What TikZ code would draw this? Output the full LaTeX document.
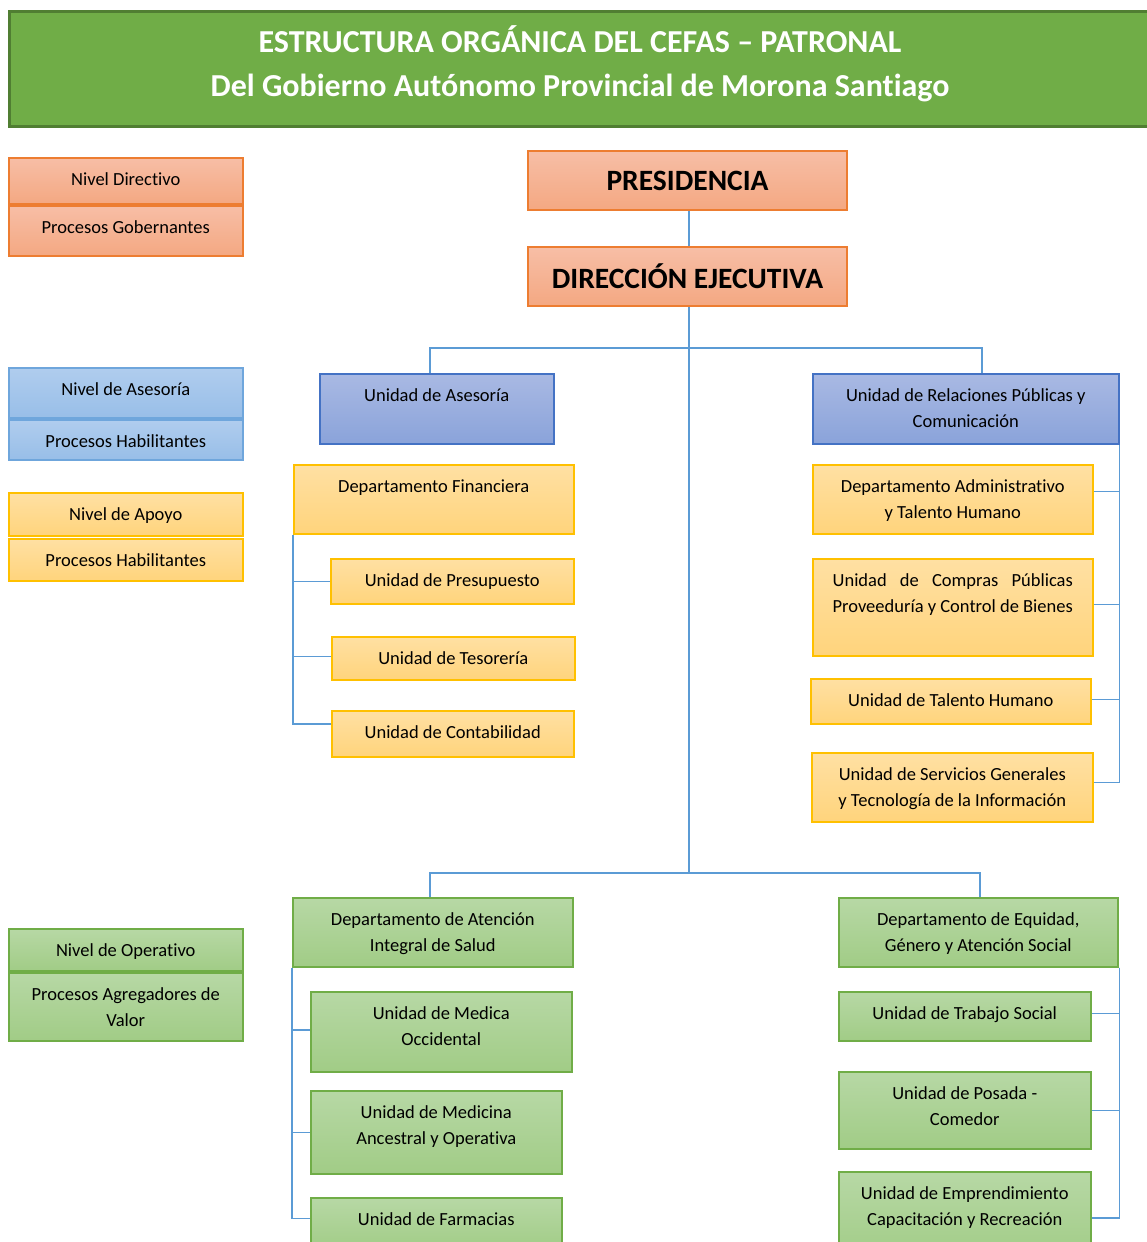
\documentclass[tikz,border=0pt]{standalone}
\usepackage{fontspec}
\setmainfont{Carlito}[Ligatures=NoCommon]
\usetikzlibrary{positioning}
\definecolor{lnblue}{HTML}{5B9BD5}
\definecolor{tiVerde}{HTML}{70AD47}
\definecolor{tiBorde}{HTML}{507E32}
\definecolor{orTop}{HTML}{F7BEA6}
\definecolor{orBot}{HTML}{F4A882}
\definecolor{orBorde}{HTML}{ED7D31}
\definecolor{amTop}{HTML}{FFE0A3}
\definecolor{amBot}{HTML}{FFD47C}
\definecolor{amBorde}{HTML}{FFC000}
\definecolor{veTop}{HTML}{B7D8A5}
\definecolor{veBot}{HTML}{A1CC86}
\definecolor{veBorde}{HTML}{70AD47}
\definecolor{azTop}{HTML}{B0CDEE}
\definecolor{azBot}{HTML}{98BEE8}
\definecolor{azBorde}{HTML}{6FA6DC}
\definecolor{osTop}{HTML}{A9B9E3}
\definecolor{osBot}{HTML}{8AA3DA}
\definecolor{osBorde}{HTML}{4472C4}
\tikzset{
    conn/.style={draw=lnblue, line width=1.5pt},
    orgnode/.style={inner sep=0pt, line width=1.5pt, text=black,
        font=\fontsize{18.5}{26.5}\selectfont},
    naranja/.style={orgnode, draw=orBorde, top color=orTop, bottom color=orBot},
    amarillo/.style={orgnode, draw=amBorde, top color=amTop, bottom color=amBot},
    verde/.style={orgnode, draw=veBorde, top color=veTop, bottom color=veBot},
    celeste/.style={orgnode, draw=azBorde, top color=azTop, bottom color=azBot},
    azul/.style={orgnode, draw=osBorde, top color=osTop, bottom color=osBot},
    cabeza/.style={naranja, font=\bfseries\fontsize{29.5}{34}\selectfont,
        minimum width=319pt, minimum height=59pt}
}
\newlength\linew
% box by corners, text hung from the top
\newcommand{\orgbox}[7]{%
    \node[#2, anchor=north west, minimum width={#5pt-#3pt}, minimum height={#6pt-#4pt}]
        (#1) at (#3,#4)
        {\parbox[c][\dimexpr#6pt-#4pt\relax][t]{\dimexpr#5pt-#3pt-8pt\relax}%
            {\centering\rule{0pt}{27.5pt}#7}};}

\begin{document}
\begin{tikzpicture}[x=1pt, y=-1pt]
    \useasboundingbox (0,0) rectangle (1147,1242);
    \node[draw=tiBorde, fill=tiVerde, line width=3pt, anchor=north west,
        minimum width=1141pt, minimum height=115pt, align=center, text=white,
        text depth=16pt, font=\bfseries\fontsize{32}{44}\selectfont] (titulo) at (8,10)
        {ESTRUCTURA ORGÁNICA DEL CEFAS – PATRONAL\\Del Gobierno Autónomo Provincial de Morona Santiago};

    % leyenda
    \orgbox{ley1}{naranja}{8}{157}{242}{203}{Nivel Directivo}
    \orgbox{ley2}{naranja}{8}{205}{242}{255}{Procesos Gobernantes}
    \orgbox{ley3}{celeste}{8}{367}{242}{417}{Nivel de Asesoría}
    \orgbox{ley4}{celeste}{8}{419}{242}{459}{Procesos Habilitantes}
    \orgbox{ley5}{amarillo}{8}{492}{242}{535}{Nivel de Apoyo}
    \orgbox{ley6}{amarillo}{8}{538}{242}{580}{Procesos Habilitantes}
    \orgbox{ley7}{verde}{8}{928}{242}{970}{Nivel de Operativo}
    \orgbox{ley8}{verde}{8}{972}{242}{1040}{Procesos Agregadores de\\Valor}

    \node[cabeza] (pres) at (687.5,180.5) {PRESIDENCIA};
    \node[cabeza] (dir) at (687.5,276.5) {DIRECCIÓN EJECUTIVA};

    \orgbox{ase}{azul}{319}{373}{553}{443}{Unidad de Asesoría}
    \orgbox{rel}{azul}{812}{373}{1118}{443}{Unidad de Relaciones Públicas y\\Comunicación}

    \orgbox{fin}{amarillo}{293}{464}{573}{533}{Departamento Financiera}
    \orgbox{presu}{amarillo}{330}{558}{573}{603}{Unidad de Presupuesto}
    \orgbox{teso}{amarillo}{331}{636}{574}{679}{Unidad de Tesorería}
    \orgbox{conta}{amarillo}{331}{710}{573}{756}{Unidad de Contabilidad}

    \orgbox{admin}{amarillo}{812}{464}{1092}{533}{Departamento Administrativo\\y Talento Humano}
    \orgbox{compras}{amarillo}{812}{558}{1092}{655}{\settowidth{\linew}{Proveeduría y Control de Bienes}%
        \makebox[\linew][s]{Unidad de Compras Públicas}\\Proveeduría y Control de Bienes}
    \orgbox{talen}{amarillo}{810}{678}{1090}{723}{Unidad de Talento Humano}
    \orgbox{serv}{amarillo}{811}{752}{1092}{821}{Unidad de Servicios Generales\\y Tecnología de la Información}

    \orgbox{aten}{verde}{292}{897}{572}{966}{Departamento de Atención\\Integral de Salud}
    \orgbox{medoc}{verde}{310}{991}{571}{1071}{Unidad de Medica\\Occidental}
    \orgbox{medan}{verde}{310}{1090}{561}{1173}{Unidad de Medicina\\Ancestral y Operativa}
    \orgbox{farm}{verde}{310}{1197}{561}{1250}{Unidad de Farmacias}

    \orgbox{equi}{verde}{838}{897}{1117}{966}{Departamento de Equidad,\\Género y Atención Social}
    \orgbox{trab}{verde}{838}{991}{1090}{1040}{Unidad de Trabajo Social}
    \orgbox{posa}{verde}{838}{1071}{1090}{1148}{Unidad de Posada -\\Comedor}
    \orgbox{empr}{verde}{838}{1171}{1090}{1260}{Unidad de Emprendimiento\\Capacitación y Recreación}

    \coordinate (c1) at (689,348);
    \coordinate (c2) at (689,873);
    \coordinate (c1l) at (430,348);
    \coordinate (c1r) at (982,348);
    \coordinate (c2l) at (430,873);
    \coordinate (c2r) at (980,873);

    \draw[conn] (pres.south -| c1) -- (dir.north -| c1);
    \draw[conn] (dir.south -| c1) -- (c2);
    \draw[conn] (ase.north -| c1l) -- (c1l) -- (c1r) -- (rel.north -| c1r);
    \draw[conn] (aten.north -| c2l) -- (c2l) -- (c2r) -- (equi.north -| c2r);

    \draw[conn] (fin.south west) |- (presu.west);
    \draw[conn] (fin.south west) |- ([yshift=2pt]teso.west);
    \draw[conn] (fin.south west) |- ([yshift=10pt]conta.west);

    \draw[conn] (rel.south east) |- ([yshift=8pt]admin.east);
    \draw[conn] (rel.south east) |- ([yshift=3pt]compras.east);
    \draw[conn] (rel.south east) |- ([yshift=2pt]talen.east);
    \draw[conn] (rel.south east) |- ([yshift=5pt]serv.east);

    \draw[conn] (aten.south west) |- ([yshift=2pt]medoc.west);
    \draw[conn] (aten.south west) |- (medan.west);
    \draw[conn] (aten.south west) |- ([yshift=6pt]farm.west);

    \draw[conn] ([xshift=1pt]equi.south east) |- ([yshift=3pt]trab.east);
    \draw[conn] ([xshift=1pt]equi.south east) |- (posa.east);
    \draw[conn] ([xshift=1pt]equi.south east) |- ([yshift=-1.5pt]empr.east);
\end{tikzpicture}
\end{document}
